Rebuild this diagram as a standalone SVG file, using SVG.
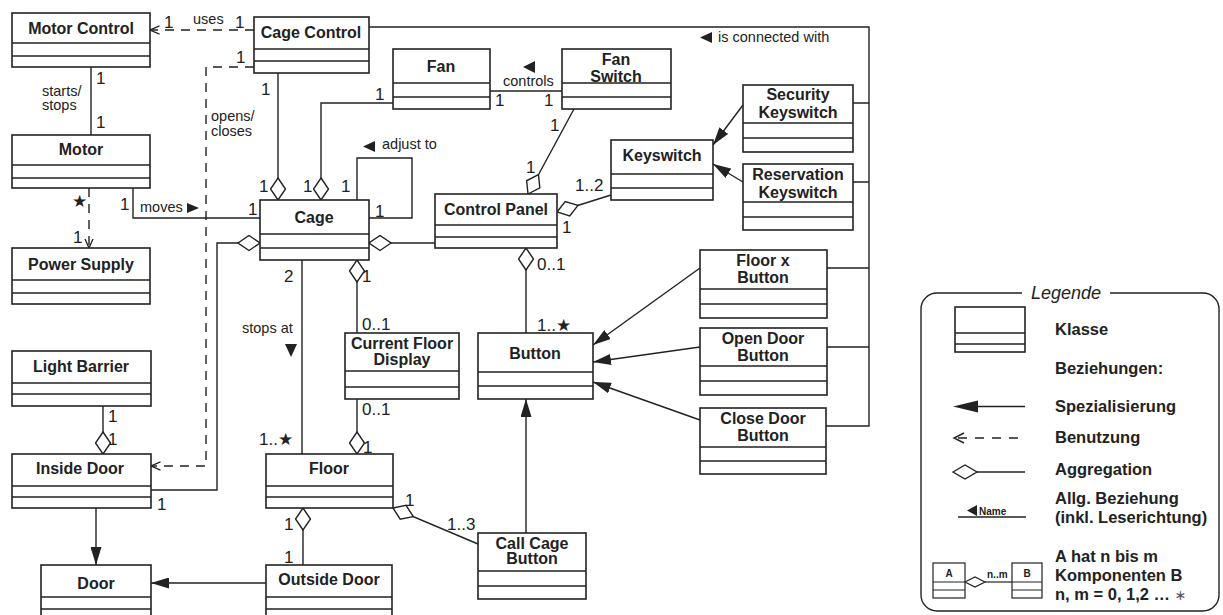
<svg xmlns="http://www.w3.org/2000/svg" width="1223" height="615" viewBox="0 0 1223 615">
<style>
.box{fill:#fff;stroke:#222;stroke-width:1.6}
.dv{fill:none;stroke:#222;stroke-width:1.4}
.ln{fill:none;stroke:#222;stroke-width:1.4}
.dash{stroke-dasharray:9 7}
.nm{font-family:"Liberation Sans",Arial,sans-serif;font-weight:bold;font-size:16px;text-anchor:middle;fill:#222}
.m{font-family:"Liberation Sans",Arial,sans-serif;font-size:17px;fill:#222}
.lb{font-family:"Liberation Sans",Arial,sans-serif;font-size:14.5px;fill:#222}
.st{font-family:"DejaVu Sans",sans-serif;font-size:17px}
.lg{font-family:"Liberation Sans",Arial,sans-serif;font-weight:bold;font-size:16.5px;fill:#222}
.sm{font-family:"Liberation Sans",Arial,sans-serif;font-weight:bold;font-size:10px;fill:#222}
.tri{fill:#222}
</style>
<defs>
<marker id="tri" viewBox="0 0 18 11" refX="18" refY="5.5" markerWidth="18" markerHeight="11" orient="auto" markerUnits="userSpaceOnUse"><path d="M0 0L18 5.5L0 11z" fill="#222"/></marker>
<marker id="open" viewBox="0 0 10 10" refX="9.5" refY="5" markerWidth="10" markerHeight="10" orient="auto" markerUnits="userSpaceOnUse"><path d="M0 0.8L9.5 5L0 9.2" fill="none" stroke="#222" stroke-width="1.3" stroke-dasharray="none"/></marker>
<marker id="dia" viewBox="-1 -1 24 17" refX="22" refY="7.5" markerWidth="24" markerHeight="17" orient="auto" markerUnits="userSpaceOnUse"><path d="M0 7.5L11 0L22 7.5L11 15z" fill="#fff" stroke="#222" stroke-width="1.4" stroke-dasharray="none"/></marker>
</defs>
<rect width="1223" height="615" fill="#fff"/>

<g id="connectors">
<path class="ln dash" d="M254 30H150" marker-end="url(#open)"/>
<path class="ln dash" d="M254 67H206V466H151" marker-end="url(#open)"/>
<path class="ln dash" d="M89 188V248" marker-end="url(#open)"/>
<path class="ln" d="M91 67V135"/>
<path class="ln" d="M133 188V218H260"/>
<path class="ln" d="M278 73V200" marker-end="url(#dia)"/>
<path class="ln" d="M393 103H321V200" marker-end="url(#dia)"/>
<path class="ln" d="M357 200V158H412V218H369"/>
<path class="ln" d="M490 91H562"/>
<path class="ln" d="M574 109L528 194" marker-end="url(#dia)"/>
<path class="ln" d="M611 195L557 212" marker-end="url(#dia)"/>
<path class="ln" d="M743 105L713 145" marker-end="url(#tri)"/>
<path class="ln" d="M743 182L713 164" marker-end="url(#tri)"/>
<path class="ln" d="M435 243H369" marker-end="url(#dia)"/>
<path class="ln" d="M151 490H217V243H260" marker-end="url(#dia)"/>
<path class="ln" d="M302 260V454"/>
<path class="ln" d="M357 333V260" marker-end="url(#dia)"/>
<path class="ln" d="M357 399V454" marker-end="url(#dia)"/>
<path class="ln" d="M526 333V248" marker-end="url(#dia)"/>
<path class="ln" d="M526 533V399" marker-end="url(#tri)"/>
<path class="ln" d="M700 268L593 345" marker-end="url(#tri)"/>
<path class="ln" d="M700 347L593 362" marker-end="url(#tri)"/>
<path class="ln" d="M700 420L593 382" marker-end="url(#tri)"/>
<path class="ln" d="M369 27H869V426H826M853 103H869M853 182H869M827 268H869M827 347H869"/>
<path class="ln" d="M103 406V454" marker-end="url(#dia)"/>
<path class="ln" d="M96 508V565" marker-end="url(#tri)"/>
<path class="ln" d="M266 583H151" marker-end="url(#tri)"/>
<path class="ln" d="M303 565V508" marker-end="url(#dia)"/>
<path class="ln" d="M478 544L393 508" marker-end="url(#dia)"/>
<path class="tri" d="M712 32L700 37.5L712 43z"/>
<path class="tri" d="M535 61L523 67L535 73z"/>
<path class="tri" d="M375 141L363 146.5L375 152z"/>
<path class="tri" d="M187 203L199 208L187 213z"/>
<path class="tri" d="M285 344L297 344L291 357z"/>
<text class="m" x="164" y="28">1</text>
<text class="lb" x="193" y="24">uses</text>
<text class="m" x="235" y="28">1</text>
<text class="m" x="236" y="63">1</text>
<text class="m" x="96" y="84">1</text>
<text class="lb" x="42" y="96">starts/</text>
<text class="lb" x="42" y="110">stops</text>
<text class="m" x="96" y="128">1</text>
<text class="lb" x="211" y="121">opens/</text>
<text class="lb" x="211" y="136">closes</text>
<text class="m" x="261" y="95">1</text>
<text class="m" x="259" y="192">1</text>
<text class="m" x="303" y="192">1</text>
<text class="m" x="341" y="192">1</text>
<text class="m" x="375" y="100">1</text>
<text class="m" x="375" y="217">1</text>
<text class="m" x="248" y="215">1</text>
<text class="m" x="120" y="210">1</text>
<text class="lb" x="140" y="212">moves</text>
<text class="m st" x="72" y="207">★</text>
<text class="m" x="73" y="243">1</text>
<text class="m" x="284" y="282">2</text>
<text class="m" x="362" y="282">1</text>
<text class="m" x="362" y="330">0..1</text>
<text class="lb" x="242" y="333">stops at</text>
<text class="m" x="362" y="415">0..1</text>
<text class="m" x="363" y="453">1</text>
<text class="m" x="259" y="445">1..<tspan class="st">★</tspan></text>
<text class="m" x="537" y="270">0..1</text>
<text class="m" x="537" y="331">1..<tspan class="st">★</tspan></text>
<text class="m" x="495" y="106">1</text>
<text class="m" x="544" y="106">1</text>
<text class="lb" x="503" y="86">controls</text>
<text class="m" x="550" y="131">1</text>
<text class="m" x="526" y="173">1</text>
<text class="m" x="575" y="191">1..2</text>
<text class="m" x="562" y="233">1</text>
<text class="lb" x="718" y="42">is connected with</text>
<text class="lb" x="382" y="149">adjust to</text>
<text class="m" x="108" y="422">1</text>
<text class="m" x="108" y="445">1</text>
<text class="m" x="157" y="510">1</text>
<text class="m" x="284" y="530">1</text>
<text class="m" x="284" y="563">1</text>
<text class="m" x="405" y="506">1</text>
<text class="m" x="447" y="530">1..3</text>
</g>

<g id="motor-control"><rect class="box" x="12" y="13" width="138" height="54"/><path class="dv" d="M12 43H150M12 56H150"/><text class="nm" x="81" y="34">Motor Control</text></g>
<g id="cage-control"><rect class="box" x="254" y="17" width="115" height="56"/><path class="dv" d="M254 49H369M254 61H369"/><text class="nm" x="311" y="38">Cage Control</text></g>
<g id="motor"><rect class="box" x="12" y="135" width="138" height="53"/><path class="dv" d="M12 165H150M12 178H150"/><text class="nm" x="81" y="155">Motor</text></g>
<g id="power-supply"><rect class="box" x="12" y="248" width="138" height="56"/><path class="dv" d="M12 280H150M12 293H150"/><text class="nm" x="81" y="270">Power Supply</text></g>
<g id="light-barrier"><rect class="box" x="12" y="351" width="139" height="55"/><path class="dv" d="M12 383H151M12 394H151"/><text class="nm" x="81" y="372">Light Barrier</text></g>
<g id="inside-door"><rect class="box" x="12" y="454" width="139" height="54"/><path class="dv" d="M12 486H151M12 497H151"/><text class="nm" x="80" y="474">Inside Door</text></g>
<g id="door"><rect class="box" x="41" y="565" width="110" height="62"/><path class="dv" d="M41 597H151M41 609H151"/><text class="nm" x="96" y="589">Door</text></g>
<g id="cage"><rect class="box" x="260" y="200" width="109" height="60"/><path class="dv" d="M260 234H369M260 248H369"/><text class="nm" x="314" y="223">Cage</text></g>
<g id="fan"><rect class="box" x="393" y="49" width="97" height="60"/><path class="dv" d="M393 83H490M393 97H490"/><text class="nm" x="441" y="72">Fan</text></g>
<g id="fan-switch"><rect class="box" x="562" y="49" width="109" height="60"/><path class="dv" d="M562 83H671M562 97H671"/><text class="nm" x="616" y="65">Fan</text><text class="nm" x="616" y="82">Switch</text></g>
<g id="control-panel"><rect class="box" x="435" y="194" width="122" height="54"/><path class="dv" d="M435 225H557M435 237H557"/><text class="nm" x="496" y="215">Control Panel</text></g>
<g id="keyswitch"><rect class="box" x="611" y="140" width="102" height="60"/><path class="dv" d="M611 174H713M611 188H713"/><text class="nm" x="662" y="161">Keyswitch</text></g>
<g id="security-keyswitch"><rect class="box" x="743" y="85" width="110" height="67"/><path class="dv" d="M743 123H853M743 138H853"/><text class="nm" x="798" y="100">Security</text><text class="nm" x="798" y="118">Keyswitch</text></g>
<g id="reservation-keyswitch"><rect class="box" x="743" y="164" width="110" height="66"/><path class="dv" d="M743 202H853M743 217H853"/><text class="nm" x="798" y="180">Reservation</text><text class="nm" x="798" y="198">Keyswitch</text></g>
<g id="current-floor-display"><rect class="box" x="345" y="333" width="114" height="66"/><path class="dv" d="M345 371H459M345 387H459"/><text class="nm" x="402" y="349">Current Floor</text><text class="nm" x="402" y="365">Display</text></g>
<g id="button"><rect class="box" x="478" y="333" width="115" height="66"/><path class="dv" d="M478 372H593M478 386H593"/><text class="nm" x="535" y="359">Button</text></g>
<g id="floor-x-button"><rect class="box" x="700" y="250" width="127" height="68"/><path class="dv" d="M700 289H827M700 304H827"/><text class="nm" x="763" y="266">Floor x</text><text class="nm" x="763" y="283">Button</text></g>
<g id="open-door-button"><rect class="box" x="700" y="328" width="127" height="67"/><path class="dv" d="M700 366H827M700 381H827"/><text class="nm" x="763" y="344">Open Door</text><text class="nm" x="763" y="361">Button</text></g>
<g id="close-door-button"><rect class="box" x="700" y="408" width="126" height="66"/><path class="dv" d="M700 447H826M700 461H826"/><text class="nm" x="763" y="424">Close Door</text><text class="nm" x="763" y="441">Button</text></g>
<g id="floor"><rect class="box" x="266" y="454" width="127" height="54"/><path class="dv" d="M266 486H393M266 497H393"/><text class="nm" x="329" y="474">Floor</text></g>
<g id="outside-door"><rect class="box" x="266" y="565" width="126" height="62"/><path class="dv" d="M266 597H392M266 609H392"/><text class="nm" x="329" y="585">Outside Door</text></g>
<g id="call-cage-button"><rect class="box" x="478" y="533" width="108" height="66"/><path class="dv" d="M478 571H586M478 586H586"/><text class="nm" x="532" y="549">Call Cage</text><text class="nm" x="532" y="564">Button</text></g>

<g id="legend">
<path class="ln" d="M1022 293H937A16 16 0 0 0 921 309V595A16 16 0 0 0 937 611H1203A16 16 0 0 0 1219 595V309A16 16 0 0 0 1203 293H1110"/>
<text x="1066" y="299" text-anchor="middle" font-family="Liberation Sans, Arial, sans-serif" font-style="italic" font-size="18" fill="#222">Legende</text>
<rect class="box" x="955" y="307" width="70" height="45"/><path class="dv" d="M955 333H1025M955 344H1025"/>
<text class="lg" x="1055" y="335">Klasse</text>
<text class="lg" x="1055" y="374">Beziehungen:</text>
<path class="ln" d="M976 406.5H1025"/><path class="tri" d="M953 406.5L978 400.5L978 412.5z"/>
<text class="lg" x="1055" y="412">Spezialisierung</text>
<path class="ln" d="M964 433L954 438L964 443"/><path class="ln" d="M958 438H1025" stroke-dasharray="9 8"/>
<text class="lg" x="1055" y="443">Benutzung</text>
<path class="ln" d="M977 472H1025"/><path d="M953 472L965 465L977 472L965 479z" fill="#fff" stroke="#222" stroke-width="1.4"/>
<text class="lg" x="1055" y="475">Aggregation</text>
<path class="ln" d="M958 517H1026"/><path class="tri" d="M977 505L967 510.5L977 516z"/>
<text class="sm" x="979" y="515">Name</text>
<text class="lg" x="1055" y="504">Allg. Beziehung</text>
<text class="lg" x="1055" y="523">(inkl. Leserichtung)</text>
<rect x="933" y="563" width="32" height="35" fill="#fff" stroke="#222" stroke-width="1.2"/><path d="M933 582H965M933 590H965" stroke="#222" stroke-width="1.1"/>
<text class="sm" x="949" y="577" text-anchor="middle">A</text>
<rect x="1012" y="563" width="30" height="35" fill="#fff" stroke="#222" stroke-width="1.2"/><path d="M1012 582H1042M1012 590H1042" stroke="#222" stroke-width="1.1"/>
<text class="sm" x="1027" y="577" text-anchor="middle">B</text>
<path d="M985 582H1012" stroke="#222" stroke-width="1.2"/><path d="M965 582L975 577L985 582L975 587z" fill="#fff" stroke="#222" stroke-width="1.2"/>
<text class="sm" x="987" y="578" font-size="9">n..m</text>
<text class="lg" x="1055" y="562">A hat n bis m</text>
<text class="lg" x="1055" y="581">Komponenten B</text>
<text class="lg" x="1055" y="600">n, m = 0, 1,2 … <tspan font-family="DejaVu Sans, sans-serif" font-weight="normal" font-size="14" fill="#555">∗</tspan></text>
</g>
</svg>
